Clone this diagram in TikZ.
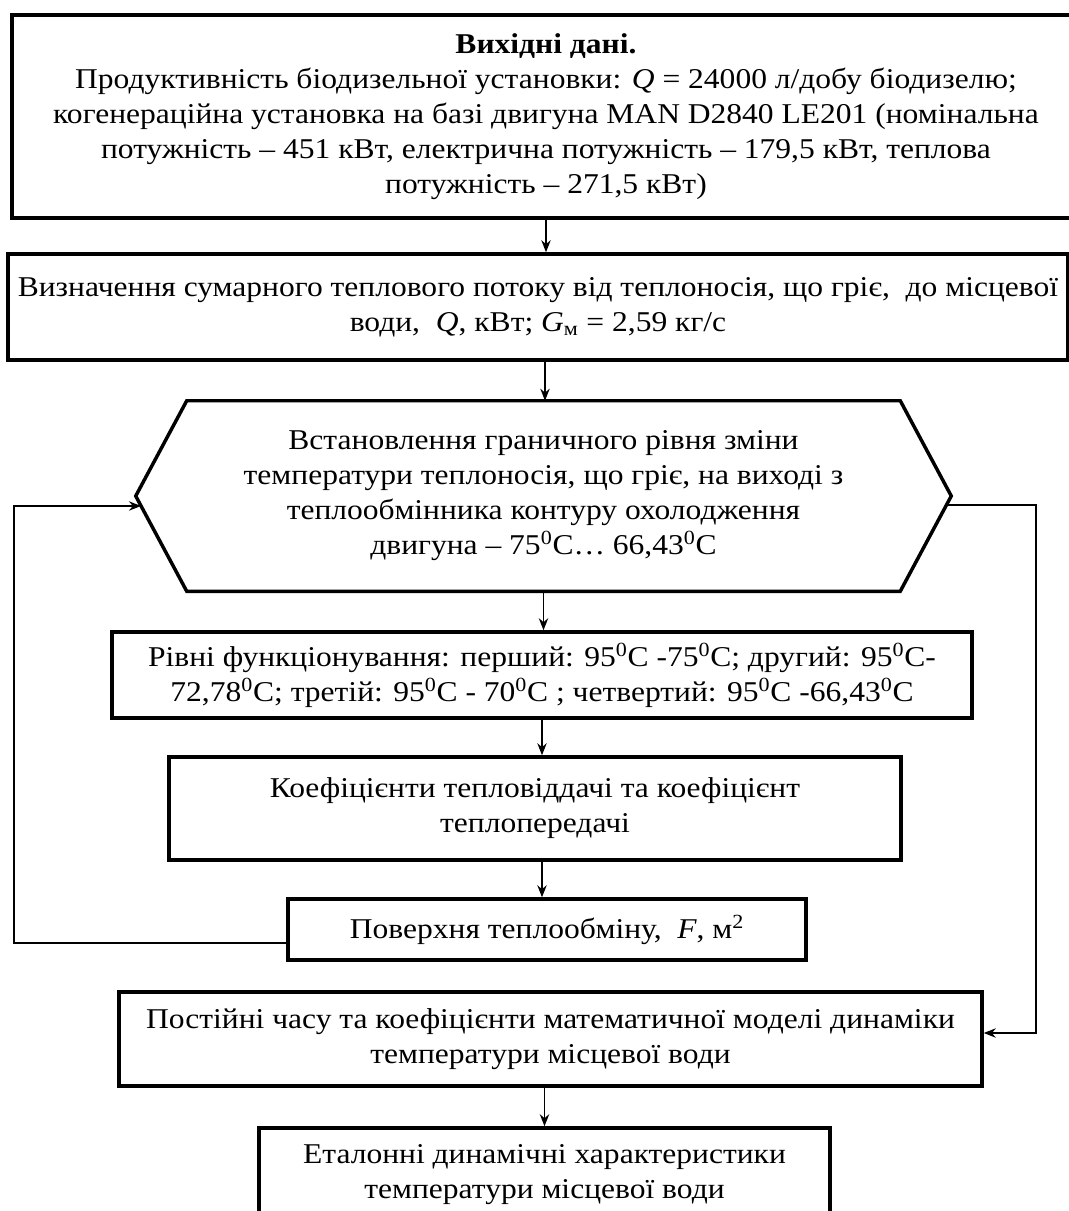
\documentclass[tikz,border=0pt]{standalone}
\usepackage{fontspec}
\setmainfont{Liberation Serif}[FakeStretch=1.1]
\usetikzlibrary{calc,arrows.meta}
\begin{document}
\begin{tikzpicture}[x=0.75pt,y=-0.75pt,
  boxnode/.style={draw=black,line width=2.6pt,rectangle,inner sep=0pt,align=center,
    font=\fontsize{21.5}{26.25}\selectfont},
  txtnode/.style={inner sep=0pt,align=center,font=\fontsize{21.5}{26.25}\selectfont},
  conn/.style={line width=1.4pt,-{Stealth[length=9pt,width=7pt]}},
  plain/.style={line width=1.4pt}]
\useasboundingbox (0,0) rectangle (1069,1211);
\fill[white] (0,0) rectangle (1069,1211);

\node[boxnode,minimum width=801pt,minimum height=152.25pt] (b1) at (546,116.5)
 {\textbf{Вихідні дані.}\\
 Продуктивність біодизельної установки: \textit{Q} = 24000 л/добу біодизелю;\\
 когенераційна установка на базі двигуна MAN D2840 LE201 (номінальна\\
 потужність – 451 кВт, електрична потужність – 179,5 кВт, теплова\\
 потужність – 271,5 кВт)};

\node[boxnode,minimum width=795pt,minimum height=79.5pt] (b2) at (538,307)
 {Визначення сумарного теплового потоку від теплоносія, що гріє,\ \ до місцевої\\
 води,\ \ \textit{Q}, кВт; \textit{G}\textsubscript{м} = 2,59 кг/с};

\node[txtnode,minimum width=611.25pt,minimum height=142.5pt] (hex) at (543.5,496)
 {Встановлення граничного рівня зміни\\
 температури теплоносія, що гріє, на виході з\\
 теплообмінника контуру охолодження\\
 двигуна – 75\textsuperscript{0}C… 66,43\textsuperscript{0}C};
\draw[line width=2.6pt,line join=miter]
 (hex.west) -- ($(hex.north west)+(51,0)$) -- ($(hex.north east)+(-51,0)$) -- (hex.east)
 -- ($(hex.south east)+(-51,0)$) -- ($(hex.south west)+(51,0)$) -- cycle;

\node[boxnode,minimum width=645pt,minimum height=64.5pt] (b4) at (542,675)
 {Рівні функціонування: перший: 95\textsuperscript{0}C -75\textsuperscript{0}C; другий: 95\textsuperscript{0}C-\\
 72,78\textsuperscript{0}C; третій: 95\textsuperscript{0}C - 70\textsuperscript{0}C ; четвертий: 95\textsuperscript{0}C -66,43\textsuperscript{0}C};

\node[boxnode,minimum width=549pt,minimum height=77.25pt] (b5) at (535,808.5)
 {Коефіцієнти тепловіддачі та коефіцієнт\\ теплопередачі};

\node[boxnode,minimum width=388.5pt,minimum height=45.75pt] (b6) at (547,929.5)
 {Поверхня теплообміну,\ \ \textit{F}, м\textsuperscript{2}};

\node[boxnode,minimum width=647.25pt,minimum height=70.5pt] (b7) at (550.5,1039)
 {Постійні часу та коефіцієнти математичної моделі динаміки\\ температури місцевої води};

\node[boxnode,minimum width=428.25pt,minimum height=70.5pt] (b8) at (544.5,1175)
 {Еталонні динамічні характеристики\\ температури місцевої води};

% vertical connectors
\draw[conn] (b1.south) -- (b1.south |- b2.north);
\draw[conn] ($(hex.north |- b2.south)+(1.5,0)$) -- ($(hex.north)+(1.5,0)$);
\draw[conn] (hex.south) -- (hex.south |- b4.north);
\draw[conn] (b4.south) -- (b4.south |- b5.north);
\draw[conn] (b4.south |- b5.south) -- (b4.south |- b6.north);
\draw[conn] (b8.north |- b7.south) -- (b8.north);

% feedback loops
\coordinate (L1) at (14,943);
\coordinate (L2) at (14,506);
\coordinate (hl) at (141,506);
\draw[conn] (b6.west |- L1) -- (L1) -- (L2) -- (hl);

\coordinate (hr) at (947,505);
\coordinate (R1) at (1036,505);
\coordinate (R2) at (1036,1033);
\draw[conn] (hr) -- (R1) -- (R2) -- (b7.east |- R2);
\end{tikzpicture}
\end{document}
